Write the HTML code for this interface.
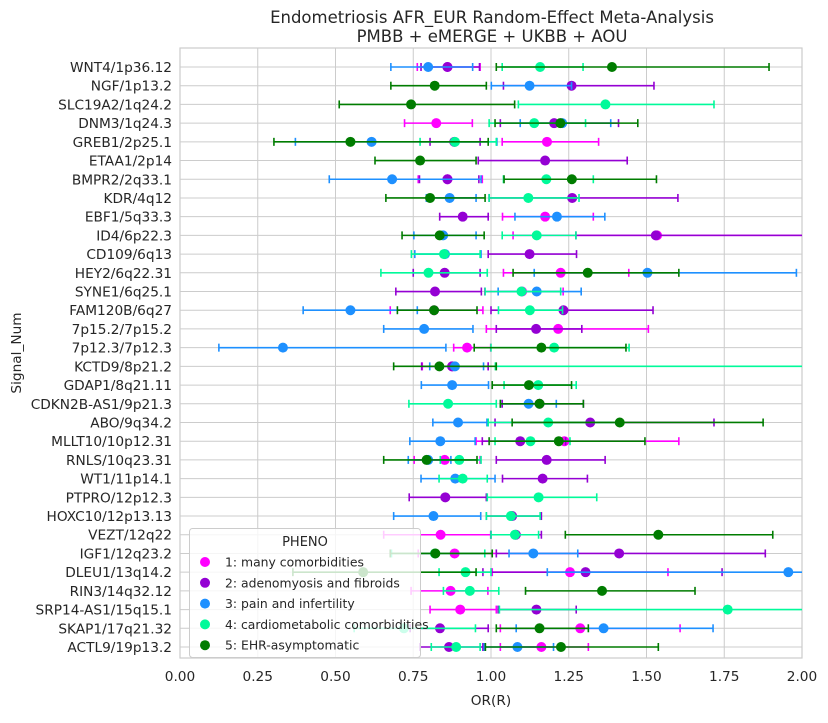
<!DOCTYPE html>
<html><head><meta charset="utf-8"><style>
body{margin:0;background:#fff;font-family:"Liberation Sans","DejaVu Sans",sans-serif;}
svg text{font-family:"DejaVu Sans","Liberation Sans",sans-serif;fill:#262626;}
</style></head><body>
<svg id="chart" width="828" height="718" xmlns="http://www.w3.org/2000/svg"></svg>
<script>
const categories=["WNT4/1p36.12","NGF/1p13.2","SLC19A2/1q24.2","DNM3/1q24.3","GREB1/2p25.1","ETAA1/2p14","BMPR2/2q33.1","KDR/4q12","EBF1/5q33.3","ID4/6p22.3","CD109/6q13","HEY2/6q22.31","SYNE1/6q25.1","FAM120B/6q27","7p15.2/7p15.2","7p12.3/7p12.3","KCTD9/8p21.2","GDAP1/8q21.11","CDKN2B-AS1/9p21.3","ABO/9q34.2","MLLT10/10p12.31","RNLS/10q23.31","WT1/11p14.1","PTPRO/12p12.3","HOXC10/12p13.13","VEZT/12q22","IGF1/12q23.2","DLEU1/13q14.2","RIN3/14q32.12","SRP14-AS1/15q15.1","SKAP1/17q21.32","ACTL9/19p13.2"];
const seriesNames=["1: many comorbidities","2: adenomyosis and fibroids","3: pain and infertility","4: cardiometabolic comorbidities","5: EHR-asymptomatic"];
const xTicks=[0,0.25,0.5,0.75,1.0,1.25,1.5,1.75,2.0];
// [OR, lower, upper] per category, null = missing
const s1=[[0.86,0.763,0.965],null,null,[0.824,0.722,0.94],[1.18,1.036,1.346],null,[0.86,0.766,0.972],null,[1.174,1.037,1.329],[1.534,1.071,2.2],null,[1.224,1.04,1.443],[1.1,0.98,1.232],[0.817,0.676,0.974],[1.216,0.985,1.506],[0.923,0.88,0.999],[0.875,0.779,0.991],null,null,null,[1.236,0.952,1.604],[0.851,0.753,0.965],null,null,null,[0.838,0.655,0.999],[0.883,0.766,1.017],[1.254,1.004,1.569],[0.87,0.743,0.99],[0.901,0.804,1.017],[1.287,1.03,1.608],[1.162,1.03,1.313]];
const s2=[[0.86,0.775,0.963],[1.259,1.04,1.524],null,[1.203,1.03,1.41],[0.882,0.804,0.965],[1.174,0.959,1.438],[0.86,0.77,0.961],[1.261,0.994,1.601],[0.909,0.835,0.991],[1.53,1.273,2.5],[1.124,0.991,1.275],[0.851,0.75,0.965],[0.82,0.694,0.969],[1.233,1.0,1.521],[1.145,1.017,1.292],null,[0.875,0.777,0.991],null,[1.156,1.036,1.297],[1.319,1.013,1.717],[1.094,0.972,1.24],[1.179,1.017,1.367],[1.166,1.037,1.31],[0.853,0.737,0.985],[1.068,0.985,1.162],[1.08,1.0,1.162],[1.412,1.017,1.882],[1.304,0.974,1.743],null,[1.146,1.023,1.274],[0.836,0.74,0.991],[0.865,0.772,0.974]];
const s3=[[0.798,0.678,0.941],[1.124,1.001,1.259],null,[1.229,1.094,1.385],[0.616,0.371,1.019],null,[0.682,0.48,0.968],[0.867,0.792,0.952],[1.212,1.077,1.366],[0.846,0.752,0.952],[0.852,0.755,0.968],[1.503,1.139,1.982],[1.147,1.023,1.29],[0.548,0.396,0.763],[0.785,0.655,0.942],[0.331,0.125,0.855],[0.884,0.803,0.976],[0.875,0.776,0.992],[1.121,1.03,1.21],[0.894,0.813,0.987],[0.837,0.739,0.949],[0.798,0.734,0.871],[0.885,0.775,1.013],null,[0.815,0.687,0.967],null,[1.136,1.058,1.279],[1.956,1.181,2.5],null,null,[1.362,1.081,1.714],[1.085,0.978,1.201]];
const s4=[[1.158,1.036,1.296],null,[1.368,1.088,1.717],[1.139,0.994,1.304],[0.884,0.772,1.017],null,[1.178,1.04,1.329],[1.12,0.994,1.283],null,[1.147,1.036,1.273],[0.849,0.744,0.965],[0.799,0.646,0.988],[1.098,0.981,1.224],[1.125,1.024,1.23],null,[1.203,1.0,1.444],[2.3,1.014,5],[1.152,1.042,1.274],[0.862,0.736,1.017],[1.184,0.991,1.416],[1.127,1.013,1.254],[0.898,0.837,0.968],[0.909,0.833,0.988],[1.153,0.988,1.34],[1.064,0.985,1.158],[1.077,1.0,1.153],[0.82,0.68,0.98],[0.918,0.833,1.0],[0.932,0.847,1.025],[1.761,1.027,2.4],[0.72,0.56,0.95],[0.888,0.808,0.965]];
const s5=[[1.389,1.017,1.894],[0.819,0.678,0.985],[0.743,0.512,1.076],[1.223,1.013,1.472],[0.548,0.302,0.991],[0.772,0.627,0.952],[1.26,1.042,1.532],[0.804,0.662,0.981],null,[0.835,0.714,0.978],null,[1.311,1.071,1.604],null,[0.817,0.699,0.955],null,[1.162,0.946,1.434],[0.834,0.687,1.017],[1.122,1.004,1.259],[1.156,1.03,1.297],[1.414,1.068,1.875],[1.218,0.994,1.495],[0.793,0.655,0.955],null,null,null,[1.538,1.239,1.906],[0.821,0.676,1.004],[0.589,0.363,0.952],[1.357,1.111,1.656],null,[1.156,1.017,1.313],[1.225,0.982,1.538]];
const allSeries=[s1,s2,s3,s4,s5];
const colors=["#ff00ff","#9400d3","#1e90ff","#00fa9a","#007c00"];

const NS="http://www.w3.org/2000/svg";
const svg=document.getElementById("chart");
const L=180,R=802,T=48,B=658,y0=67,y1=647;
const xScale=v=>L+(v-0)/(2-0)*(R-L);
const yScale=i=>y0+i*(y1-y0)/(categories.length-1);
function mk(tag,attrs,parent){const e=document.createElementNS(NS,tag);for(const k in attrs)e.setAttribute(k,attrs[k]);(parent||svg).appendChild(e);return e;}
const defs=mk("defs",{});const cp=mk("clipPath",{id:"clip"},defs);mk("rect",{x:L,y:T,width:R-L,height:B-T},cp);

const grid=mk("g",{});


xTicks.forEach(t=>{const x=xScale(t);mk("line",{x1:x,x2:x,y1:T,y2:B,stroke:"#cccccc","stroke-width":1},grid);
 const tx=mk("text",{x:x,y:681,"font-size":13.7,"text-anchor":"middle"});tx.textContent=t.toFixed(2);
 
 });
categories.forEach((c,i)=>{const y=yScale(i);mk("line",{x1:L,x2:R,y1:y,y2:y,stroke:"#cccccc","stroke-width":1},grid);
 const tx=mk("text",{x:172,y:y+5,"font-size":13.7,"text-anchor":"end"});tx.textContent=c;
 
 });
mk("rect",{x:L,y:T,width:R-L,height:B-T,fill:"none",stroke:"#cccccc","stroke-width":1.2});

const plot=mk("g",{"clip-path":"url(#clip)"});
allSeries.forEach((s,k)=>{const g=mk("g",{},plot);
 
 
 s.forEach((d,i)=>{if(!d)return;const y=yScale(i);const c=colors[k];
  const a=xScale(d[1]),b=xScale(d[2]);
  const ln=mk("line",{x1:a,x2:b,y1:y,y2:y,stroke:c,"stroke-width":1.6},g);
  
  
  mk("line",{x1:a,x2:a,y1:y-4,y2:y+4,stroke:c,"stroke-width":1.6},g);
  mk("line",{x1:b,x2:b,y1:y-4,y2:y+4,stroke:c,"stroke-width":1.6},g);
  const p=mk("circle",{cx:xScale(d[0]),cy:y,r:5,fill:c},g);
  
  });});

const title=mk("text",{x:492,y:23,"font-size":16.5,"text-anchor":"middle"});title.textContent="Endometriosis AFR_EUR Random-Effect Meta-Analysis";


const t2=mk("text",{x:492,y:42,"font-size":16.5,"text-anchor":"middle"});t2.textContent="PMBB + eMERGE + UKBB + AOU";


const xl=mk("text",{x:491,y:705,"font-size":13.7,"text-anchor":"middle"});xl.textContent="OR(R)";


const yl=mk("text",{x:21,y:353,"font-size":13.7,"text-anchor":"middle",transform:"rotate(-90 21 353)"});yl.textContent="Signal_Num";



const leg=mk("g",{});


mk("rect",{x:189.5,y:528.5,width:231,height:129,rx:3,fill:"#ffffff","fill-opacity":0.8,stroke:"#cccccc"},leg);
const lt=mk("text",{x:305,y:546,"font-size":13,"text-anchor":"middle"},leg);lt.textContent="PHENO";
seriesNames.forEach((n,k)=>{const y=562+k*20.8;
 const e=mk("g",{},leg);
 
 
 mk("circle",{cx:205,cy:y,r:5,fill:colors[k]},e);
 const t=mk("text",{x:225,y:y+4.5,"font-size":12.4},e);t.textContent=n;});
</script>
</body></html>
